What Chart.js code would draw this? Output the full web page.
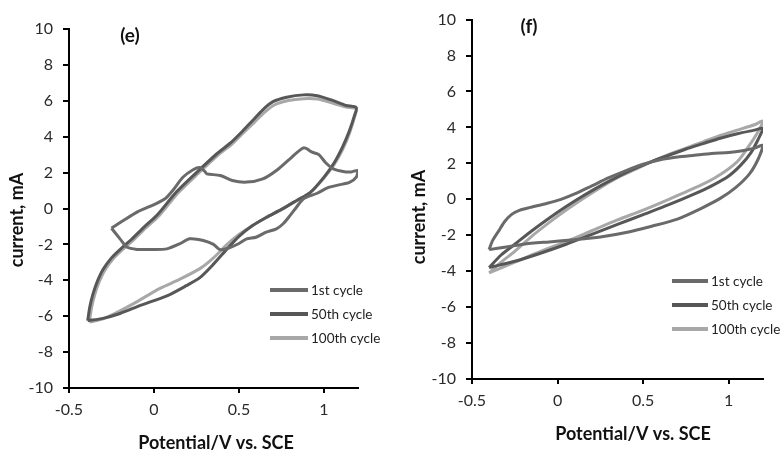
<!DOCTYPE html>
<html>
<head>
<meta charset="utf-8">
<script src="https://cdn.jsdelivr.net/npm/chart.js@4.4.1/dist/chart.umd.min.js"></script>
<style>
  html,body{margin:0;padding:0;background:#fff;}
  #wrap{position:relative;width:780px;height:451px;overflow:hidden;}
  .panel{position:absolute;top:0;width:390px;height:451px;}
</style>
</head>
<body>
<div id="wrap">
  <div class="panel" style="left:0"><canvas id="ce" width="390" height="451"></canvas></div>
  <div class="panel" style="left:390px"><canvas id="cf" width="390" height="451"></canvas></div>
</div>
<script>
// ---------- data ----------
const seriesNames = ['1st cycle', '50th cycle', '100th cycle'];
const xTicks = [-0.5, 0, 0.5, 1];
const yTicks = [-10, -8, -6, -4, -2, 0, 2, 4, 6, 8, 10];
const xTitle = 'Potential/V vs. SCE';
const yTitle = 'current, mA';
const panelLabels = ['(e)', '(f)'];

// panel (e): [potential V, current mA]
const e_cycle1 = [[-0.25,-1.1],[-0.18,-0.67],[-0.10,-0.2],[-0.01,0.17],[0.065,0.54],[0.11,1.0],[0.17,1.74],[0.23,2.16],[0.27,2.28],[0.30,2.05],[0.31,1.93],[0.39,1.84],[0.46,1.56],[0.545,1.47],[0.64,1.65],[0.72,2.12],[0.80,2.77],[0.88,3.38],[0.93,3.14],[0.97,3.0],[1.01,2.55],[1.055,2.21],[1.12,2.05],[1.16,2.04],[1.2,2.12],[1.19,1.75],[1.15,1.45],[1.08,1.3],[1.02,1.15],[0.96,0.85],[0.88,0.55],[0.84,0.1],[0.80,-0.4],[0.76,-0.85],[0.72,-1.13],[0.66,-1.32],[0.60,-1.6],[0.545,-1.69],[0.50,-1.95],[0.44,-2.2],[0.39,-2.3],[0.35,-2.0],[0.29,-1.78],[0.21,-1.69],[0.15,-1.97],[0.075,-2.25],[-0.02,-2.28],[-0.10,-2.28],[-0.16,-2.15],[-0.20,-1.69],[-0.25,-1.1]];
const e_cycle50 = [[-0.39,-6.25],[-0.378,-5.5],[-0.36,-4.8],[-0.335,-4.1],[-0.3,-3.4],[-0.25,-2.75],[-0.19,-2.2],[-0.13,-1.7],[-0.06,-1.05],[0.02,-0.35],[0.13,0.9],[0.25,2.0],[0.37,3.05],[0.45,3.65],[0.52,4.3],[0.58,4.9],[0.64,5.5],[0.7,5.95],[0.78,6.2],[0.88,6.33],[0.96,6.28],[1.05,6.02],[1.13,5.74],[1.19,5.62],[1.18,5.2],[1.15,4.35],[1.11,3.45],[1.06,2.55],[1.0,1.75],[0.92,0.9],[0.84,0.45],[0.75,-0.05],[0.66,-0.5],[0.58,-0.95],[0.5,-1.55],[0.43,-2.25],[0.35,-3.1],[0.27,-3.85],[0.19,-4.3],[0.08,-4.85],[-0.08,-5.4],[-0.2,-5.85],[-0.3,-6.12],[-0.39,-6.25]];
const e_cycle100 = [[-0.38,-6.33],[-0.368,-5.55],[-0.35,-4.85],[-0.325,-4.15],[-0.29,-3.45],[-0.24,-2.8],[-0.18,-2.25],[-0.12,-1.75],[-0.05,-1.1],[0.03,-0.4],[0.14,0.85],[0.26,1.95],[0.38,3.0],[0.46,3.6],[0.53,4.25],[0.59,4.8],[0.65,5.35],[0.71,5.78],[0.79,6.02],[0.88,6.12],[0.96,6.1],[1.05,5.88],[1.13,5.65],[1.19,5.55],[1.18,5.1],[1.15,4.2],[1.11,3.3],[1.06,2.45],[1.0,1.7],[0.92,0.9],[0.84,0.45],[0.75,-0.05],[0.66,-0.5],[0.58,-0.95],[0.5,-1.45],[0.43,-2.0],[0.35,-2.75],[0.27,-3.35],[0.15,-3.95],[0.035,-4.45],[-0.12,-5.3],[-0.22,-5.8],[-0.3,-6.15],[-0.38,-6.33]];

// panel (f)
const f_cycle1 = [[-0.4,-2.8],[-0.38,-2.3],[-0.34,-1.7],[-0.31,-1.25],[-0.27,-0.85],[-0.22,-0.6],[-0.16,-0.45],[-0.06,-0.22],[0.02,0.0],[0.1,0.3],[0.2,0.75],[0.3,1.2],[0.4,1.6],[0.5,1.95],[0.6,2.2],[0.7,2.35],[0.8,2.45],[0.9,2.55],[1.0,2.6],[1.08,2.7],[1.15,2.85],[1.2,3.0],[1.17,2.2],[1.12,1.4],[1.04,0.65],[0.95,0.05],[0.84,-0.5],[0.7,-1.1],[0.55,-1.5],[0.4,-1.85],[0.25,-2.1],[0.1,-2.25],[-0.05,-2.37],[-0.2,-2.5],[-0.3,-2.65],[-0.4,-2.8]];
const f_cycle50 = [[-0.4,-3.8],[-0.33,-3.1],[-0.25,-2.5],[-0.15,-1.75],[-0.05,-1.05],[0.05,-0.4],[0.15,0.2],[0.25,0.75],[0.35,1.25],[0.45,1.7],[0.55,2.1],[0.65,2.45],[0.75,2.8],[0.85,3.1],[0.95,3.4],[1.05,3.65],[1.15,3.85],[1.2,3.95],[1.17,3.3],[1.13,2.6],[1.07,1.9],[1.0,1.3],[0.9,0.75],[0.8,0.3],[0.65,-0.3],[0.5,-0.85],[0.35,-1.4],[0.2,-1.95],[0.05,-2.5],[-0.1,-3.0],[-0.25,-3.45],[-0.4,-3.8]];
const f_cycle100 = [[-0.4,-4.1],[-0.33,-3.5],[-0.25,-2.9],[-0.15,-2.05],[-0.05,-1.3],[0.05,-0.6],[0.15,0.05],[0.25,0.65],[0.35,1.2],[0.45,1.65],[0.55,2.1],[0.65,2.5],[0.75,2.85],[0.85,3.2],[0.95,3.55],[1.05,3.85],[1.15,4.15],[1.2,4.35],[1.17,3.75],[1.12,3.0],[1.06,2.2],[1.0,1.7],[0.92,1.2],[0.84,0.8],[0.65,0.0],[0.5,-0.6],[0.35,-1.15],[0.2,-1.75],[0.05,-2.35],[-0.1,-2.9],[-0.25,-3.5],[-0.4,-4.1]];

// ---------- styling ----------
const colors = ['#6a6a6a', '#575757', '#a8a8a8'];
const FONT = 'Lato, "Open Sans", sans-serif';

const textPlugin = {
  id: 'panelText',
  afterDraw(chart, args, o) {
    const ctx = chart.ctx;
    ctx.save();
    ctx.fillStyle = '#111';
    ctx.textAlign = 'center';
    ctx.textBaseline = 'middle';
    ctx.font = 'bold 19px ' + FONT;
    ctx.fillText(o.label, o.labelX, o.labelY);
    ctx.font = 'bold 18px ' + FONT;
    ctx.fillText(xTitle, o.xtX, o.xtY);
    ctx.save();
    ctx.translate(o.ytX, o.ytY);
    ctx.rotate(-Math.PI / 2);
    ctx.fillText(yTitle, 0, 0);
    ctx.restore();
    // legend
    ctx.font = '13.5px ' + FONT;
    ctx.textAlign = 'left';
    ctx.fillStyle = '#222';
    chart.data.datasets.forEach((ds, i) => {
      const y = o.legY + i * o.legGap;
      ctx.strokeStyle = ds.borderColor;
      ctx.lineWidth = 4;
      ctx.beginPath();
      ctx.moveTo(o.legX1, y);
      ctx.lineTo(o.legX2, y);
      ctx.stroke();
      ctx.fillText(ds.label, o.legTX, y + 1);
    });
    ctx.restore();
  }
};

function makeChart(id, series, pad, yWidth, xHeight, txt) {
  const datasets = series.map((pts, i) => ({
    label: seriesNames[i],
    data: pts.map(p => ({x: p[0], y: p[1]})),
    showLine: true,
    borderColor: colors[i],
    backgroundColor: colors[i],
    borderWidth: 3,
    pointRadius: 0,
    tension: 0.25,
    fill: false
  }));
  return new Chart(document.getElementById(id), {
    type: 'scatter',
    data: {datasets},
    plugins: [textPlugin],
    options: {
      responsive: false,
      animation: false,
      devicePixelRatio: 1,
      layout: {padding: pad},
      plugins: {legend: {display: false}, tooltip: {enabled: false}, panelText: txt},
      scales: {
        x: {
          type: 'linear', min: -0.5, max: 1.2,
          afterBuildTicks: s => { s.ticks = xTicks.map(v => ({value: v})); },
          afterFit: s => { s.height = xHeight; },
          grid: {display: true, drawOnChartArea: false, drawTicks: true, tickLength: 5, color: '#000', lineWidth: 2},
          border: {display: true, color: '#000', width: 2},
          ticks: {font: {family: FONT, size: 16}, color: '#2a2a2a', padding: 7, maxRotation: 0,
                  callback: v => String(v)}
        },
        y: {
          type: 'linear', min: -10, max: 10,
          afterBuildTicks: s => { s.ticks = yTicks.map(v => ({value: v})); },
          afterFit: s => { s.width = yWidth; },
          grid: {display: true, drawOnChartArea: false, drawTicks: true, tickLength: 6, color: '#000', lineWidth: 2},
          border: {display: true, color: '#000', width: 2},
          ticks: {font: {family: FONT, size: 16}, color: '#2a2a2a', padding: 10,
                  callback: v => String(v)}
        }
      }
    }
  });
}

makeChart('ce', [e_cycle1, e_cycle50, e_cycle100],
  {left: 0, right: 32, top: 29, bottom: 0}, 69, 63,
  {label: panelLabels[0], labelX: 130, labelY: 36, xtX: 216, xtY: 443, ytX: 17, ytY: 220,
   legX1: 270, legX2: 308, legTX: 311, legY: 290, legGap: 24});

makeChart('cf', [f_cycle1, f_cycle50, f_cycle100],
  {left: 0, right: 17, top: 18, bottom: 0}, 82, 72,
  {label: panelLabels[1], labelX: 139, labelY: 27, xtX: 243, xtY: 434, ytX: 29, ytY: 217,
   legX1: 282, legX2: 318, legTX: 321, legY: 281, legGap: 24});
</script>
</body>
</html>
